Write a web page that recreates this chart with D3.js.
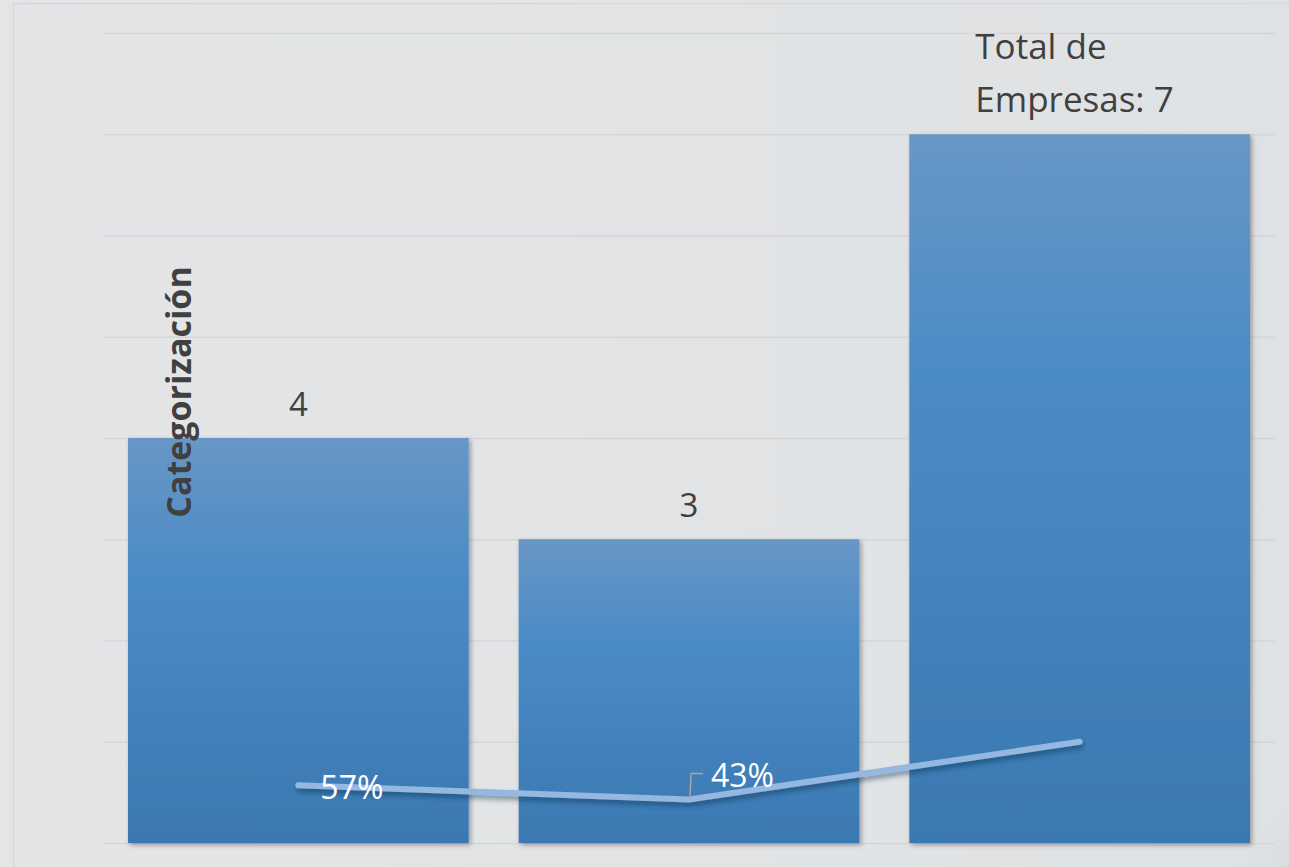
<!DOCTYPE html>
<html><head><meta charset="utf-8">
<script src="https://cdnjs.cloudflare.com/ajax/libs/d3/7.8.5/d3.min.js"></script>
<style>html,body{margin:0;padding:0;background:#e2e4e6;overflow:hidden}</style>
</head><body>
<svg id="c" width="1289" height="867"></svg>
<script>
const categories = ["Cat A", "Cat B", "Total"];
const barValues = [4, 3, 7];
const pctValues = [0.57, 0.43, 1.0];
const barLabels = ["4", "3", "Total de|Empresas: 7"];
const pctLabels = ["57%", "43%", ""];
const yTicks = [0,1,2,3,4,5,6,7,8];
const axisTitle = "Categorización";

const svg = d3.select("#c");
const defs = svg.append("defs");
const bg = defs.append("linearGradient").attr("id","bg").attr("x1",0).attr("x2",1).attr("y1",0).attr("y2",0);
bg.append("stop").attr("offset","0%").attr("stop-color","#e4e5e7");
bg.append("stop").attr("offset","100%").attr("stop-color","#dfe2e4");
const bar = defs.append("linearGradient").attr("id","bar").attr("x1",0).attr("x2",0).attr("y1",0).attr("y2",1);
bar.append("stop").attr("offset","0%").attr("stop-color","#6896c6");
bar.append("stop").attr("offset","35%").attr("stop-color","#4a8bc6");
bar.append("stop").attr("offset","100%").attr("stop-color","#3b78b2");
const corner = defs.append("radialGradient").attr("id","corner").attr("cx",1).attr("cy",1).attr("r",1);
corner.append("stop").attr("offset","0%").attr("stop-color","#444").attr("stop-opacity",0.85);
corner.append("stop").attr("offset","30%").attr("stop-color","#777").attr("stop-opacity",0.45);
corner.append("stop").attr("offset","70%").attr("stop-color","#aaa").attr("stop-opacity",0.1);
corner.append("stop").attr("offset","100%").attr("stop-color","#ccc").attr("stop-opacity",0);
const sh = defs.append("filter").attr("id","sh").attr("x","-10%").attr("y","-10%").attr("width","130%").attr("height","130%");
sh.append("feDropShadow").attr("dx",2).attr("dy",2).attr("stdDeviation",2.5).attr("flood-color","#000").attr("flood-opacity",0.35);
const lsh = defs.append("filter").attr("id","lsh").attr("x","-10%").attr("y","-50%").attr("width","130%").attr("height","300%");
lsh.append("feDropShadow").attr("dx",1).attr("dy",4).attr("stdDeviation",2.5).attr("flood-color","#0b2a4a").attr("flood-opacity",0.45);

svg.append("rect").attr("width",1289).attr("height",867).attr("fill","url(#bg)");
svg.append("rect").attr("x",13.5).attr("y",3.5).attr("width",1290).attr("height",880)
  .attr("fill","none").attr("stroke","#d6d8da").attr("stroke-width",1.5);
svg.append("ellipse").attr("cx",1289).attr("cy",867).attr("rx",70).attr("ry",90).attr("fill","url(#corner)");

const x = d3.scaleBand().domain(categories).range([103, 1275]).paddingInner(0.128).paddingOuter(0.064);
const y = d3.scaleLinear().domain([0, 8]).range([843, 33]);

// gridlines
svg.append("g").attr("transform","translate(103,0)")
  .call(d3.axisLeft(y).tickValues(yTicks).tickSize(-1172).tickFormat(""))
  .call(g => g.select(".domain").remove())
  .call(g => g.selectAll("line").attr("stroke","#d4d6d8").attr("stroke-width",1.3));

// bars
svg.append("g").selectAll("rect").data(barValues).join("rect")
  .attr("x",(d,i)=>x(categories[i])).attr("width",x.bandwidth())
  .attr("y",d=>y(d)).attr("height",d=>y(0)-y(d))
  .attr("fill","url(#bar)").attr("filter","url(#sh)");

// line
const line = d3.line().x((d,i)=>x(categories[i])+x.bandwidth()/2).y(d=>y(d));
svg.append("path").datum(pctValues).attr("d",line).attr("fill","none")
  .attr("stroke","#95b8e1").attr("stroke-width",6).attr("stroke-linecap","round").attr("stroke-linejoin","round")
  .attr("filter","url(#lsh)");

// bar labels
const font = "'Open Sans', 'Noto Sans', sans-serif";
barLabels.forEach((t,i)=>{
  const cx = x(categories[i]) + x.bandwidth()/2;
  const parts = t.split("|");
  if (parts.length === 1) {
    svg.append("text").attr("x",cx).attr("y",y(barValues[i]) - 22).attr("text-anchor","middle")
      .attr("font-family",font).attr("font-size",33).attr("fill","#404040").text(t);
  } else {
    parts.forEach((p,k)=>{
      svg.append("text").attr("x",x(categories[i]) + 66).attr("y",y(barValues[i]) - 75 + k*53)
        .attr("font-family",font).attr("font-size",35).attr("fill","#404040").text(p);
    });
  }
});

// pct labels
const pctPos = [[22, 14], [22, -12]];
pctLabels.forEach((t,i)=>{
  if (!t) return;
  const cx = x(categories[i]) + x.bandwidth()/2;
  svg.append("text").attr("x",cx + pctPos[i][0]).attr("y",y(pctValues[i]) + pctPos[i][1])
    .attr("font-family",font).attr("font-size",32).attr("fill","#ffffff").text(t);
});
// leader line for 43%
{
  const cx = x(categories[1]) + x.bandwidth()/2;
  const cy = y(pctValues[1]);
  svg.append("path").attr("d",`M${cx+1},${cy-1}L${cx+2},${cy-26}L${cx+14},${cy-26}`)
    .attr("fill","none").attr("stroke","#a6a6a6").attr("stroke-width",1.5);
}

// axis title
svg.append("text").attr("transform",`translate(191,392) rotate(-90)`).attr("text-anchor","middle")
  .attr("font-family","'Open Sans', 'Noto Sans', sans-serif").attr("font-weight","bold").attr("font-size",34)
  .attr("fill","#404040").text(axisTitle);
</script>
</body></html>
